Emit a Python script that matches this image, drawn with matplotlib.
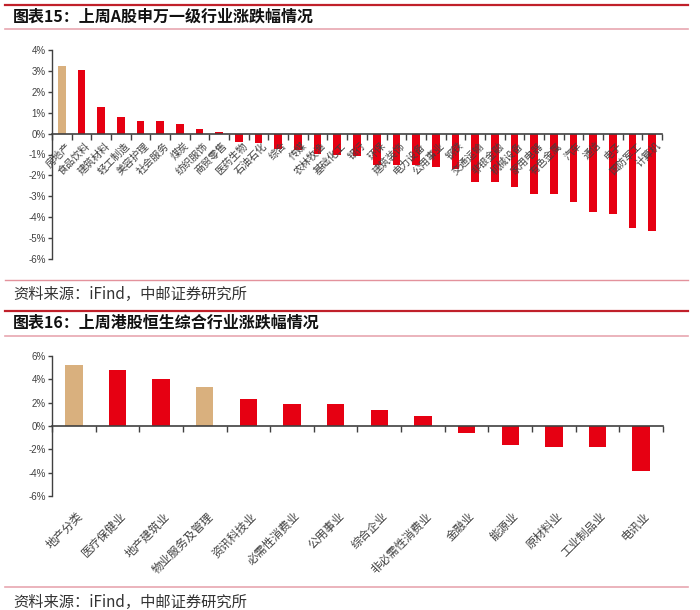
import matplotlib
matplotlib.use("Agg")
import matplotlib.pyplot as plt
from matplotlib.lines import Line2D
from matplotlib.ticker import FixedLocator, FuncFormatter
import matplotlib.transforms as mtransforms

plt.rcParams['font.family'] = ['Noto Sans CJK SC', 'DejaVu Sans']

# ---- data ----
title1 = "图表15：上周A股申万一级行业涨跌幅情况"
title2 = "图表16：上周港股恒生综合行业涨跌幅情况"
source = "资料来源：iFind，中邮证券研究所"

a_cats = ["房地产", "食品饮料", "建筑材料", "轻工制造", "美容护理", "社会服务", "煤炭",
          "纺织服饰", "商贸零售", "医药生物", "石油石化", "综合", "传媒", "农林牧渔",
          "基础化工", "银行", "环保", "建筑装饰", "电力设备", "公用事业", "钢铁",
          "交通运输", "非银金融", "机械设备", "家用电器", "有色金属", "汽车", "通信",
          "电子", "国防军工", "计算机"]
a_vals = [3.25, 3.06, 1.28, 0.80, 0.61, 0.61, 0.45, 0.24, 0.10, -0.41, -0.45, -0.73,
          -0.77, -0.99, -1.02, -1.05, -1.48, -1.50, -1.50, -1.61, -1.69, -2.33, -2.33,
          -2.57, -2.87, -2.87, -3.27, -3.76, -3.83, -4.51, -4.66]
a_highlight = ["房地产"]
a_yticks = [4, 3, 2, 1, 0, -1, -2, -3, -4, -5, -6]

h_cats = ["地产分类", "医疗保健业", "地产建筑业", "物业服务及管理", "资讯科技业",
          "必需性消费业", "公用事业", "综合企业", "非必需性消费业", "金融业", "能源业",
          "原材料业", "工业制品业", "电讯业"]
h_vals = [5.24, 4.76, 4.07, 3.35, 2.35, 1.86, 1.86, 1.38, 0.83, -0.60, -1.66,
          -1.83, -1.83, -3.87]
h_highlight = ["地产分类", "物业服务及管理"]
h_yticks = [6, 4, 2, 0, -2, -4, -6]

RED = "#E60012"
TAN = "#D9B07E"
AXC = "#404040"
TXT = "#404040"

W, H = 700, 610
fig = plt.figure(figsize=(7, 6.1), dpi=100)

def fx(px):
    return px / W

def fy(py):
    return 1 - py / H

def hline(y, color, lw, x0=5, x1=688):
    fig.add_artist(Line2D([fx(x0), fx(x1)], [fy(y), fy(y)], color=color, lw=lw,
                          transform=fig.transFigure))

# header / footer decorations
hline(4.5, "#C0202A", 1.6)
hline(29, "#E8A7B0", 1.2)
hline(280, "#E3929C", 1.0)
hline(311, "#C0202A", 1.6)
hline(336, "#E8A7B0", 1.2)
hline(587, "#E8A7B0", 1.2)

fig.text(fx(13), fy(17), title1, fontsize=11.5, fontweight='bold', color='#111111',
         va='center', ha='left')
fig.text(fx(13), fy(323), title2, fontsize=11.5, fontweight='bold', color='#111111',
         va='center', ha='left')
fig.text(fx(13), fy(294), source, fontsize=11, color='#333333', va='center', ha='left')
fig.text(fx(13), fy(602), source, fontsize=11, color='#333333', va='center', ha='left')

pct = FuncFormatter(lambda v, p: ("%d%%" % v).replace("\u2212", "-"))


def style_axes(ax, n, yticks):
    ax.set_xlim(-0.5, n - 0.5)
    ax.set_ylim(min(yticks), max(yticks))
    for s in ("top", "right"):
        ax.spines[s].set_visible(False)
    ax.spines['left'].set_color(AXC)
    ax.spines['bottom'].set_color(AXC)
    ax.spines['left'].set_linewidth(1.0)
    ax.spines['bottom'].set_linewidth(1.2)
    ax.spines['bottom'].set_position(('data', 0))
    ax.yaxis.set_major_locator(FixedLocator(yticks))
    ax.yaxis.set_major_formatter(pct)
    ax.tick_params(axis='y', direction='out', length=3, width=1, color=AXC,
                   labelsize=7, labelcolor=TXT, pad=1.5)
    for lab in ax.get_yticklabels():
        lab.set_fontfamily(['Liberation Sans', 'DejaVu Sans'])
    ax.xaxis.set_major_locator(FixedLocator([i - 0.5 for i in range(n + 1)]))
    ax.tick_params(axis='x', direction='out', length=4, width=1, color=AXC,
                   labelbottom=False)


# ---- top chart ----
ax1 = fig.add_axes([fx(52), fy(259), fx(662) - fx(52), (259 - 50) / H])
colors1 = [TAN if c in a_highlight else RED for c in a_cats]
ax1.bar(range(len(a_cats)), a_vals, width=0.39, color=colors1, zorder=2)
style_axes(ax1, len(a_cats), a_yticks)
off1 = mtransforms.ScaledTranslation(2.5 / 72, -5 / 72, fig.dpi_scale_trans)
for i, c in enumerate(a_cats):
    ax1.text(i, 0, c, transform=ax1.transData + off1, rotation=45,
             rotation_mode='anchor', ha='right', va='top', fontsize=7.3, color=TXT,
             zorder=3)

# ---- bottom chart ----
ax2 = fig.add_axes([fx(52), fy(496), fx(663) - fx(52), (496 - 356) / H])
colors2 = [TAN if c in h_highlight else RED for c in h_cats]
ax2.bar(range(len(h_cats)), h_vals, width=0.40, color=colors2, zorder=2)
style_axes(ax2, len(h_cats), h_yticks)
off2 = mtransforms.ScaledTranslation(1.5 / 72, -10 / 72, fig.dpi_scale_trans)
for i, c in enumerate(h_cats):
    ax2.text(i, min(h_yticks), c, transform=ax2.transData + off2, rotation=45,
             rotation_mode='anchor', ha='right', va='top', fontsize=8.3, color=TXT)

fig.savefig("out.png", dpi=100)
